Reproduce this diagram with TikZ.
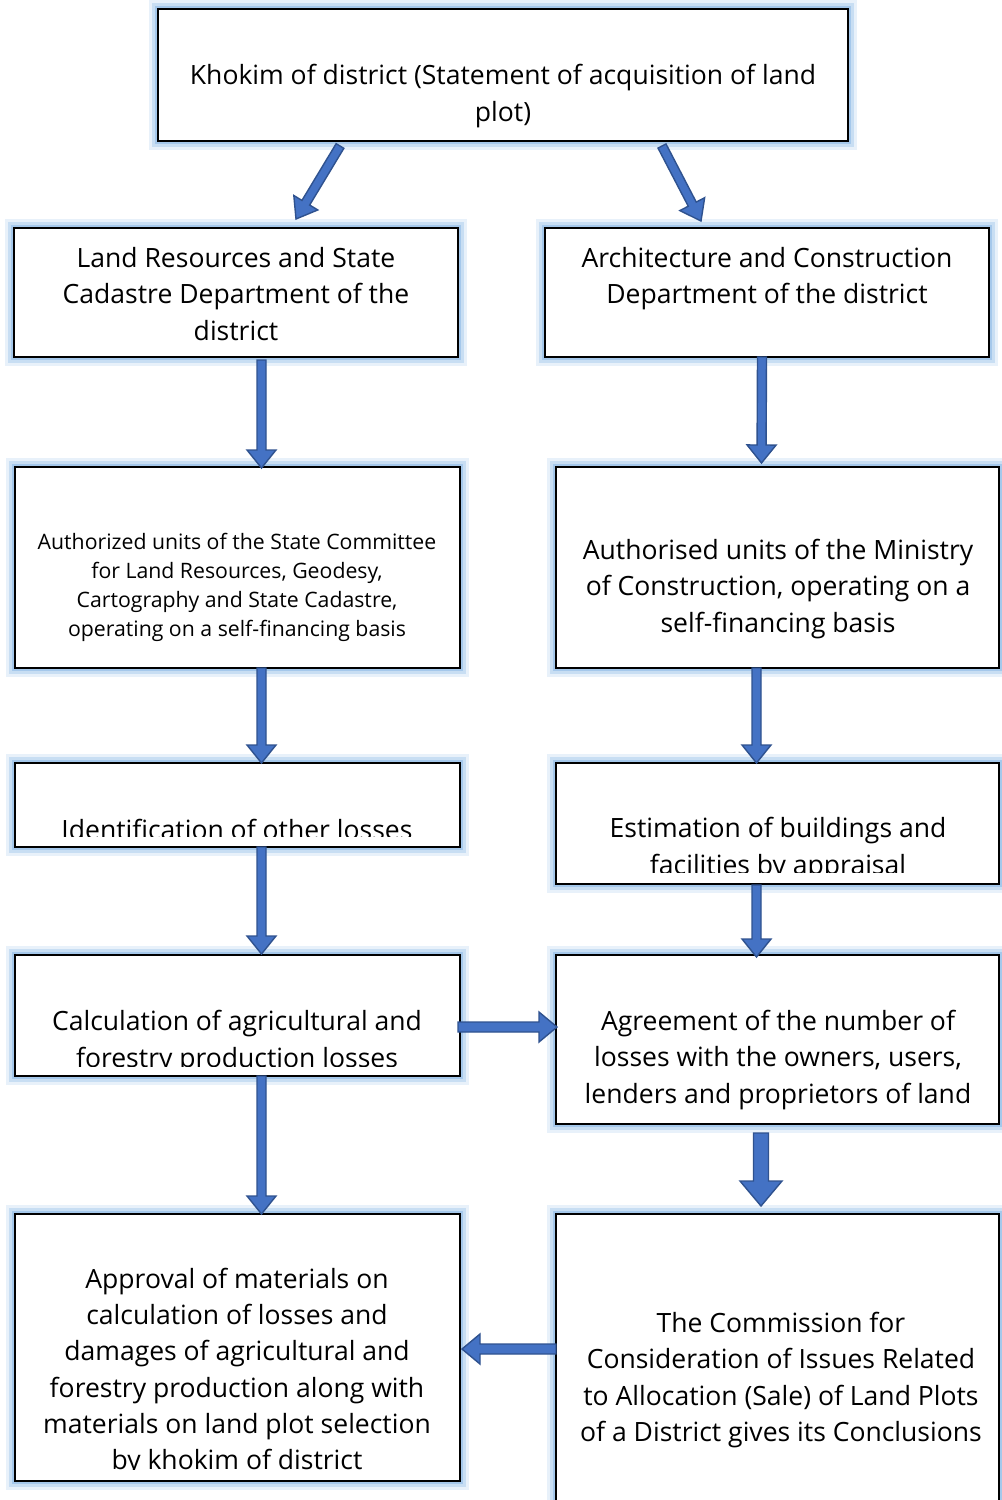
\documentclass[tikz,border=0pt]{standalone}
\usepackage{fontspec}
\setmainfont{Open Sans}
\usetikzlibrary{calc}
\definecolor{arrfill}{HTML}{4472C4}
\definecolor{arrline}{HTML}{2F528F}
\definecolor{glowc}{HTML}{8DB9E6}
\tikzset{
  box/.style={draw=black, line width=1.5pt, fill=white, rectangle, inner sep=0pt, outer sep=0pt,
    preaction={draw=glowc, draw opacity=0.2, line width=10pt},
    preaction={draw=glowc, draw opacity=0.35, line width=6.5pt},
    preaction={draw=glowc, draw opacity=0.6, line width=3.5pt}},
  txt/.style={align=center, inner sep=0pt, font=\fontsize{15.1}{20.6}\selectfont},
  smalltxt/.style={align=center, inner sep=0pt, font=\fontsize{12.1}{16.5}\selectfont},
  blockarrow/.style={fill=arrfill, draw=arrline, line width=0.8pt, line join=miter}
}
\newcommand\barrow[5]{%
  \coordinate (ba) at #1;
  \coordinate (bb) at #2;
  \coordinate (bc) at ($(bb)!#5!(ba)$);
  \draw[blockarrow] ($(ba)!#3!90:(bb)$) -- ($(bc)!#3!-90:(ba)$) -- ($(bc)!#4!-90:(ba)$) -- (bb)
    -- ($(bc)!#4!90:(ba)$) -- ($(bc)!#3!90:(ba)$) -- ($(ba)!#3!-90:(bb)$) -- cycle;
}
\begin{document}
\begin{tikzpicture}[x=0.02cm, y=-0.02cm]
\useasboundingbox (0,0) rectangle (1001,1500);
% boxes
\node[box, minimum width=690*0.02cm, minimum height=132*0.02cm] (b1) at (503,75) {};
\node[box, minimum width=444*0.02cm, minimum height=129*0.02cm] (b2) at (236,292.5) {};
\node[box, minimum width=444*0.02cm, minimum height=129*0.02cm] (b3) at (767,292.5) {};
\node[box, minimum width=445*0.02cm, minimum height=201*0.02cm] (b4) at (237.5,567.5) {};
\node[box, minimum width=443*0.02cm, minimum height=201*0.02cm] (b5) at (777.5,567.5) {};
\node[box, minimum width=445*0.02cm, minimum height=84*0.02cm] (b6) at (237.5,805) {};
\node[box, minimum width=443*0.02cm, minimum height=121*0.02cm] (b7) at (777.5,823.5) {};
\node[box, minimum width=445*0.02cm, minimum height=121*0.02cm] (b8) at (237.5,1015.5) {};
\node[box, minimum width=443*0.02cm, minimum height=169*0.02cm] (b9) at (777.5,1039.5) {};
\node[box, minimum width=445*0.02cm, minimum height=267*0.02cm] (b10) at (237.5,1347.5) {};
\node[box, minimum width=443*0.02cm, minimum height=300*0.02cm] (b11) at (777.5,1364) {};
% texts
\node[txt] (t1) at (503,96) {Khokim of district (Statement of acquisition of land\\plot)};
\node[txt] (t2) at (236,294) {Land Resources and State\\Cadastre Department of the\\district};
\node[txt] (t3) at (767,279) {Architecture and Construction\\Department of the district};
\node[smalltxt] (t4) at (237,587.5) {Authorized units of the State Committee\\for Land Resources, Geodesy,\\Cartography and State Cadastre,\\operating on a self-financing basis};
\node[txt] (t5) at (778,589) {Authorised units of the Ministry\\of Construction, operating on a\\self-financing basis};
\begin{scope}
\clip (15,763) rectangle (460,836.5);
\node[txt] (t6) at (237,829) {Identification of other losses};
\end{scope}
\begin{scope}
\clip (556,763) rectangle (999,872);
\node[txt] (t7) at (778,849) {Estimation of buildings and\\facilities by appraisal};
\end{scope}
\begin{scope}
\clip (15,955) rectangle (460,1066);
\node[txt] (t8) at (237,1042) {Calculation of agricultural and\\forestry production losses};
\end{scope}
\node[txt] (t9) at (778,1060) {Agreement of the number of\\losses with the owners, users,\\lenders and proprietors of land};
\begin{scope}
\clip (15,1214) rectangle (460,1469);
\node[txt] (t10) at (237,1372) {Approval of materials on\\calculation of losses and\\damages of agricultural and\\forestry production along with\\materials on land plot selection\\by khokim of district};
\end{scope}
\node[txt] (t11) at (781,1380) {The Commission for\\Consideration of Issues Related\\to Allocation (Sale) of Land Plots\\of a District gives its Conclusions};
% arrows
\barrow{($(b1.south)+(-163,5)$)}{($(b2.north)+(60,-9)$)}{0.09cm}{0.28cm}{0.38cm}
\barrow{($(b1.south)+(159,5)$)}{($(b3.north)+(-66,-7)$)}{0.09cm}{0.28cm}{0.38cm}
\barrow{($(b2.south)+(25.5,3)$)}{($(b4.north)+(24,1)$)}{0.09cm}{0.29cm}{0.36cm}
\barrow{($(b3.south)+(-5,0)$)}{($(b5.north)+(-16,-4)$)}{0.09cm}{0.29cm}{0.36cm}
\barrow{($(b4.south)+(24,0)$)}{($(b6.north)+(24,0)$)}{0.09cm}{0.29cm}{0.36cm}
\barrow{($(b5.south)+(-21,0)$)}{($(b7.north)+(-21,0)$)}{0.09cm}{0.29cm}{0.36cm}
\barrow{($(b6.south)+(24,0)$)}{($(b8.north)+(24,-1)$)}{0.09cm}{0.29cm}{0.36cm}
\barrow{($(b7.south)+(-21,1)$)}{($(b9.north)+(-21,2)$)}{0.09cm}{0.29cm}{0.36cm}
\barrow{($(b8.south)+(24,0)$)}{($(b10.north)+(24,0)$)}{0.09cm}{0.29cm}{0.36cm}
\barrow{($(b8.east)+(-2,11.5)$)}{($(b9.west)+(1,-12.5)$)}{0.1cm}{0.3cm}{0.36cm}
\barrow{($(b9.south)+(-16.5,9)$)}{($(b11.north)+(-16.5,-8)$)}{0.15cm}{0.42cm}{0.5cm}
\barrow{($(b11.west)+(0,-15)$)}{($(b10.east)+(2,1.5)$)}{0.1cm}{0.3cm}{0.36cm}
\end{tikzpicture}
\end{document}
